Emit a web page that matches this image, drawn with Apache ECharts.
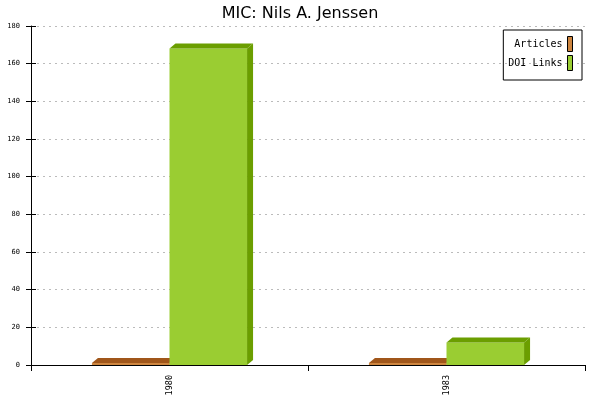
<!DOCTYPE html>
<html><head><meta charset="utf-8">
<script src="https://cdn.jsdelivr.net/npm/echarts@6/dist/echarts.min.js"></script>
<style>html,body{margin:0;padding:0;background:#fff}#c{width:600px;height:400px}</style>
</head><body><div id="c"></div>
<script>
const categories = ['1980', '1983'];
const articles = [1, 1];
const doiLinks = [168, 12];
const yTicks = [0, 20, 40, 60, 80, 100, 120, 140, 160, 180];

const seriesDefs = [
  {name: 'Articles', values: articles, front: '#CD853F', dark: '#A0561A', side: -1},
  {name: 'DOI Links', values: doiLinks, front: '#9ACD32', dark: '#6B9E00', side: 0}
];
const DX = 6, DY = 5;

function makeRender(def) {
  return function (params, api) {
    const i = api.value(0), v = api.value(1);
    const top = api.coord([i, v]);
    const base = api.coord([i, 0]);
    const cw = api.size([1, 0])[0];
    const bw = cw * 0.28;
    const x0 = def.side < 0 ? top[0] - bw : top[0];
    const x1 = x0 + bw;
    const yT = top[1], yB = base[1];
    return {
      type: 'group',
      children: [
        {type: 'rect', shape: {x: x0, y: yT, width: bw, height: yB - yT}, style: {fill: def.front}},
        {type: 'polygon', shape: {points: [[x0, yT], [x0 + DX, yT - DY], [x1 + DX, yT - DY], [x1, yT]]}, style: {fill: def.dark}},
        {type: 'polygon', shape: {points: [[x1, yT], [x1 + DX, yT - DY], [x1 + DX, yB - DY], [x1, yB]]}, style: {fill: def.dark}}
      ]
    };
  };
}

const chart = echarts.init(document.getElementById('c'), null, {renderer: 'canvas'});
chart.setOption({
  animation: false,
  title: {
    text: 'MIC: Nils A. Jenssen', left: 'center', top: 1,
    textStyle: {fontFamily: 'DejaVu Sans', fontSize: 16, fontWeight: 'normal', color: '#000'}
  },
  legend: {
    orient: 'vertical', right: 18, top: 30, align: 'right',
    borderColor: '#000', borderWidth: 1, padding: [6, 9, 9, 5], itemGap: 3,
    itemWidth: 5, itemHeight: 15, icon: 'rect',
    textStyle: {fontFamily: 'DejaVu Sans Mono', fontSize: 10, color: '#000'},
    data: seriesDefs.map(d => ({name: d.name, itemStyle: {color: d.front, borderColor: '#000', borderWidth: 1}}))
  },
  grid: {left: 31, right: 15, top: 26, bottom: 35},
  xAxis: {
    type: 'category', data: categories, boundaryGap: true,
    axisLine: {lineStyle: {color: '#000', width: 1}},
    axisTick: {show: true, length: 6, lineStyle: {color: '#000'}},
    axisLabel: {rotate: 90, margin: 10, fontFamily: 'DejaVu Sans Mono', fontSize: 8.5, color: '#000'}
  },
  yAxis: [{
    type: 'value', min: 0, max: 180, interval: 20,
    axisLine: {show: true, lineStyle: {color: '#000', width: 1}},
    axisTick: {show: true, length: 5, lineStyle: {color: '#000'}},
    axisLabel: {margin: 11, fontFamily: 'DejaVu Sans Mono', fontSize: 7, color: '#000',
      formatter: v => yTicks.indexOf(v) >= 0 ? String(v) : ''},
    splitLine: {show: true, lineStyle: {color: '#bbbbbb', type: [2, 4], width: 1}}
  }, {
    type: 'value', min: 0, max: 180, interval: 20, position: 'left',
    axisLine: {show: false},
    axisTick: {show: true, inside: true, length: 5, lineStyle: {color: '#000'}},
    axisLabel: {show: false},
    splitLine: {show: false}
  }],
  series: seriesDefs.map(d => ({
    name: d.name, type: 'custom',
    itemStyle: {color: d.front},
    encode: {x: 0, y: 1},
    yAxisIndex: 0,
    data: d.values.map((v, i) => [i, v]),
    renderItem: makeRender(d)
  }))
});
</script></body></html>
